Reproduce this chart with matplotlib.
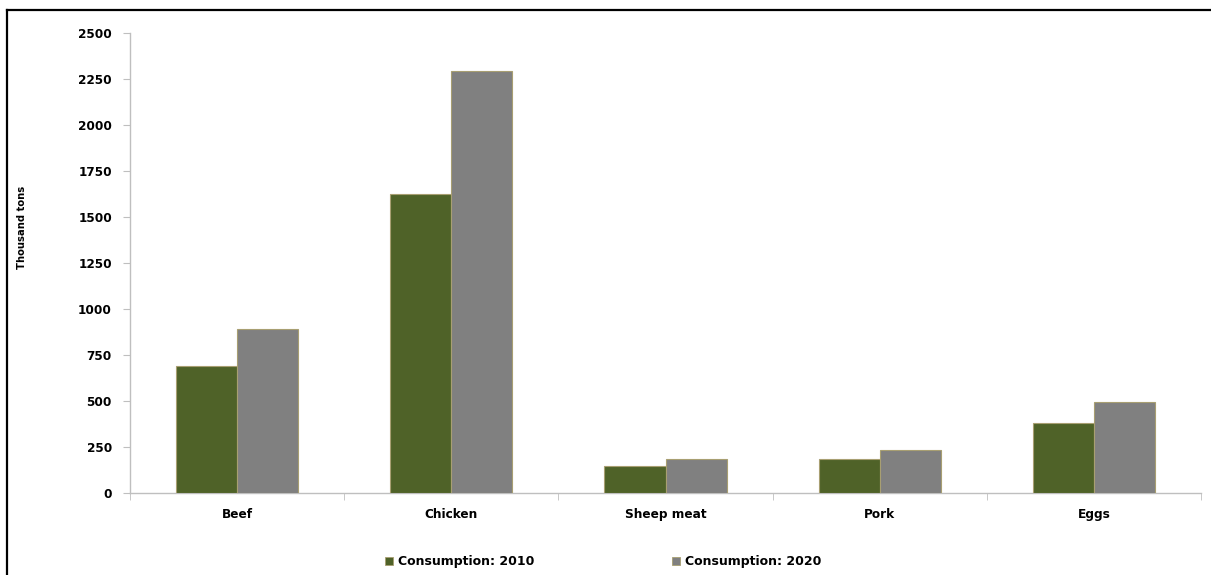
import matplotlib
matplotlib.use("Agg")
import matplotlib.pyplot as plt
from matplotlib.lines import Line2D
from matplotlib.patches import Patch
import numpy as np

categories = ["Beef", "Chicken", "Sheep meat", "Pork", "Eggs"]
consumption_2010 = [690, 1625, 145, 185, 380]
consumption_2020 = [890, 2295, 185, 235, 495]
series_labels = ["Consumption: 2010", "Consumption: 2020"]
y_ticks = [0, 250, 500, 750, 1000, 1250, 1500, 1750, 2000, 2250, 2500]

green = "#4f6228"
grey = "#808080"
edge = "#a89f72"
axis_grey = "#bfbfbf"

plt.rcParams["font.family"] = ["DejaVu Sans"]

W, H = 1211, 575
fig = plt.figure(figsize=(W / 100, H / 100), dpi=100)
ax = fig.add_axes([130 / W, 1 - 493 / H, (1201 - 130) / W, (493 - 33.5) / H])

x = np.arange(len(categories))
bw = 0.285
ax.bar(x - bw / 2, consumption_2010, bw, color=green, edgecolor=edge, linewidth=0.8, zorder=3)
ax.bar(x + bw / 2, consumption_2020, bw, color=grey, edgecolor=edge, linewidth=0.8, zorder=3)

ax.set_xlim(-0.5, len(categories) - 0.5)
ax.set_ylim(0, 2500)
ax.set_yticks(y_ticks)
ax.set_yticklabels([str(v) for v in y_ticks], fontsize=8.7, fontweight="bold")
ax.set_xticks(x)
ax.set_xticklabels(categories, fontsize=8.7, fontweight="bold")
ax.set_xticks(np.arange(len(categories) + 1) - 0.5, minor=True)

ax.tick_params(axis="x", which="major", length=0, pad=11)
ax.tick_params(axis="x", which="minor", length=5, color=axis_grey, direction="out")
ax.tick_params(axis="y", length=5, color=axis_grey, direction="out", pad=8)

for side in ("top", "right"):
    ax.spines[side].set_visible(False)
for side in ("left", "bottom"):
    ax.spines[side].set_color(axis_grey)
    ax.spines[side].set_linewidth(1.0)

fig.text(22 / W, 1 - 227 / H, "Thousand tons", rotation=90, ha="center", va="center",
         fontsize=8, fontweight="bold", fontstretch="condensed",
         family=["DejaVu Sans"])

handles = [Patch(facecolor=green, edgecolor=edge, linewidth=0.6),
           Patch(facecolor=grey, edgecolor=edge, linewidth=0.6)]
fig.legend(handles, series_labels, loc="center", bbox_to_anchor=(603 / W, 1 - 562 / H),
           ncol=2, frameon=False, prop={"weight": "bold", "size": 9},
           handlelength=0.65, handleheight=0.65, handletextpad=0.4, columnspacing=11.0)

# outer frame: left and top border lines
fig.add_artist(Line2D([7 / W, 7 / W], [0, 1 - 10 / H], color="black", linewidth=1.6,
                      transform=fig.transFigure))
fig.add_artist(Line2D([7 / W, 1], [1 - 10 / H, 1 - 10 / H], color="black", linewidth=1.6,
                      transform=fig.transFigure))

fig.savefig("out.png", dpi=100)
